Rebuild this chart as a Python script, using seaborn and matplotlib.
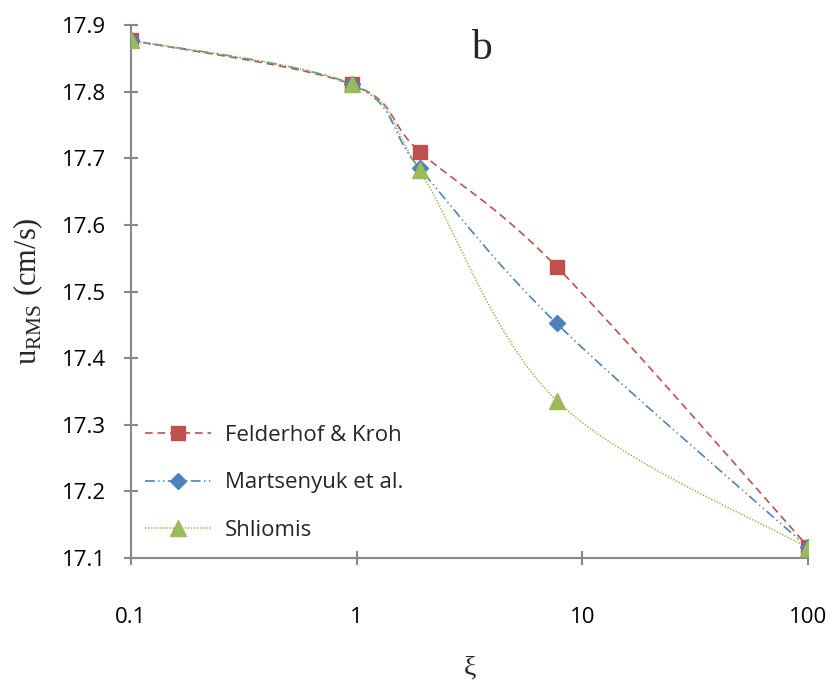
import numpy as np
import matplotlib
matplotlib.use("Agg")
import matplotlib.pyplot as plt
import seaborn as sns
from matplotlib.lines import Line2D
from matplotlib.ticker import FixedLocator, FuncFormatter, NullLocator

# ---- data ----
xi = [0.1, 0.95, 1.9, 7.7, 100]
felderhof = [17.877, 17.811, 17.710, 17.537, 17.117]
martsenyuk = [17.877, 17.811, 17.685, 17.452, 17.116]
shliomis = [17.877, 17.811, 17.682, 17.336, 17.115]
series_names = ["Felderhof & Kroh", "Martsenyuk et al.", "Shliomis"]
x_ticks = [0.1, 1, 10, 100]
y_ticks = [17.1, 17.2, 17.3, 17.4, 17.5, 17.6, 17.7, 17.8, 17.9]

sns.set_theme(style="white")
plt.rcParams["font.family"] = ["Open Sans", "DejaVu Sans"]
plt.rcParams["mathtext.fontset"] = "custom"
plt.rcParams["mathtext.rm"] = "Liberation Serif"
plt.rcParams["lines.scale_dashes"] = False

fig = plt.figure(figsize=(8.37, 6.82), dpi=100)
ax = fig.add_axes([131 / 837, 1 - 558 / 682, 677 / 837, 533 / 682])
ax.set_xscale("log")
ax.set_xlim(0.1, 100)
ax.set_ylim(17.1, 17.9)

W, H = 677.0, 533.0


def smooth(xs, ys, n=40):
    # Excel-like Bezier smoothing in display-proportional space
    X = (np.log10(xs) + 1) / 3 * W
    Y = (np.asarray(ys) - 17.1) / 0.8 * H
    P = np.column_stack([X, Y])
    Pp = np.vstack([P[0], P, P[-1]])
    out = []
    t = np.linspace(0, 1, n)[:, None]
    for i in range(len(P) - 1):
        p0, p1, p2, p3 = Pp[i], Pp[i + 1], Pp[i + 2], Pp[i + 3]
        c1 = p1 + (p2 - p0) / 6
        c2 = p2 - (p3 - p1) / 6
        seg = ((1 - t) ** 3) * p1 + 3 * ((1 - t) ** 2) * t * c1 + 3 * (1 - t) * t ** 2 * c2 + t ** 3 * p2
        out.append(seg if i == 0 else seg[1:])
    S = np.vstack(out)
    return 10 ** (S[:, 0] / W * 3 - 1), S[:, 1] / H * 0.8 + 17.1


colors = ["#C0504D", "#4F81BD", "#9BBB59"]
styles = [(0, (5.5, 3.5)), (0, (7, 2.5, 1, 2.5, 1, 2.5)), (0, (1, 1.2))]
markers = ["s", "D", "^"]
msizes = [10, 8.5, 11]
data = [felderhof, martsenyuk, shliomis]

handles = []
for name, ys, c, ls, m, ms in zip(series_names, data, colors, styles, markers, msizes):
    sx, sy = smooth(xi, ys)
    sns.lineplot(x=sx, y=sy, ax=ax, color=c, linewidth=1.2, sort=False, estimator=None)
    ax.lines[-1].set_linestyle(ls)
    ax.plot(xi, ys, linestyle="none", marker=m, markersize=ms, color=c,
            markeredgecolor=c, zorder=3)
    handles.append(Line2D([], [], color=c, linestyle=ls, linewidth=1.2,
                          marker=m, markersize=ms, markeredgecolor=c))

# axes styling
for s in ["top", "right"]:
    ax.spines[s].set_visible(False)
for s in ["left", "bottom"]:
    ax.spines[s].set_color("#888888")
    ax.spines[s].set_linewidth(1.5)

ax.xaxis.set_major_locator(FixedLocator(x_ticks))
ax.xaxis.set_minor_locator(NullLocator())
ax.xaxis.set_major_formatter(FuncFormatter(lambda v, p: f"{v:g}"))
ax.yaxis.set_major_locator(FixedLocator(y_ticks))
ax.yaxis.set_major_formatter(FuncFormatter(lambda v, p: f"{v:.1f}"))
ax.tick_params(axis="both", which="major", direction="inout", length=10, width=1.5,
               color="#888888", labelsize=16, labelcolor="black")
ax.tick_params(axis="x", pad=30, bottom=True)
ax.tick_params(axis="y", pad=13, left=True)

ax.set_xlabel("ξ", fontsize=20, family="Liberation Serif", labelpad=20)
ax.set_ylabel(r"$\mathrm{u}_{\mathrm{RMS}}$ (cm/s)", fontsize=22,
              family="Liberation Serif", labelpad=12)
ax.text(0.517, 0.955, "b", transform=ax.transAxes, fontsize=30,
        family="Liberation Serif", ha="center", va="center")

ax.legend(handles, series_names, loc="upper left", bbox_to_anchor=(0.02, 0.25),
          frameon=False, fontsize=16, handlelength=3.0, handletextpad=0.6,
          labelspacing=1.2, borderpad=0, borderaxespad=0)

fig.savefig("out.png", dpi=100)
